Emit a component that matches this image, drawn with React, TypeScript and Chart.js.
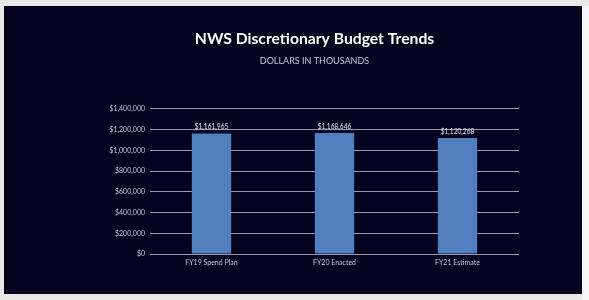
import React, { useEffect, useRef } from "react";
import { Chart, registerables } from "chart.js";

Chart.register(...registerables);

const categories = ["FY19 Spend Plan", "FY20 Enacted", "FY21 Estimate"];
const budgetValues = [1161965, 1168646, 1120268];
const yMax = 1400000;
const yStep = 200000;

const fmt = (v: number) => "$" + Number(v).toLocaleString("en-US");

const FONT = "Lato, 'Open Sans', sans-serif";

const valueLabels = {
  id: "valueLabels",
  afterDatasetsDraw(chart: any) {
    const ctx = chart.ctx;
    const meta = chart.getDatasetMeta(0);
    ctx.save();
    ctx.font = `6.6px ${FONT}`;
    ctx.fillStyle = "#ececf4";
    ctx.textAlign = "center";
    ctx.textBaseline = "bottom";
    meta.data.forEach((bar: any, i: number) => {
      ctx.fillText(fmt(budgetValues[i]), bar.x, bar.y - 3);
    });
    ctx.restore();
  },
};

export default function App() {
  const ref = useRef<HTMLCanvasElement>(null);
  useEffect(() => {
    if (!ref.current) return;
    const chart = new Chart(ref.current, {
      type: "bar",
      data: {
        labels: categories,
        datasets: [
          {
            data: budgetValues,
            backgroundColor: "#4f7fbd",
            categoryPercentage: 1,
            barPercentage: 0.32,
          },
        ],
      },
      options: {
        animation: false,
        responsive: false,
        maintainAspectRatio: false,
        layout: { padding: { left: 106, right: 63, top: 0, bottom: 0 } },
        plugins: {
          legend: { display: false },
          tooltip: { enabled: false },
          title: {
            display: true,
            text: "NWS Discretionary Budget Trends",
            color: "#ffffff",
            font: { family: FONT, size: 15.7, weight: "bold" },
            padding: { top: 24, bottom: 0 },
          },
          subtitle: {
            display: true,
            text: "DOLLARS IN THOUSANDS",
            color: "#c8c8d8",
            font: { family: FONT, size: 9 },
            padding: { top: 7.3, bottom: 42 },
          },
        },
        scales: {
          x: {
            grid: { display: false, drawTicks: false },
            border: { display: false },
            ticks: {
              color: "#c8c8d8",
              font: { family: FONT, size: 7 },
              padding: 5,
            },
            afterFit: (s: any) => {
              s.height = 40;
            },
          },
          y: {
            min: 0,
            max: yMax,
            grid: { color: "#9a9ab6", drawTicks: false, lineWidth: 1 },
            border: { display: false },
            ticks: {
              stepSize: yStep,
              color: "#c8c8d8",
              font: { family: FONT, size: 7 },
              padding: 5,
              callback: (v: any) => fmt(v),
            },
            afterFit: (s: any) => {
              s.width = 40;
            },
          },
        },
      },
      plugins: [valueLabels],
    });
    return () => chart.destroy();
  }, []);

  return (
    <div
      style={{
        position: "fixed",
        left: 0,
        top: 0,
        width: 589,
        height: 300,
        background: "#e8e8e8",
        overflow: "hidden",
      }}
    >
      <div
        style={{
          position: "absolute",
          left: 582,
          top: 6,
          width: 7,
          height: 294,
          background: "#f6f6f6",
        }}
      />
      <div
        style={{
          position: "absolute",
          left: 4,
          top: 6,
          width: 578,
          height: 288,
          background: "#03031f",
        }}
      >
        <canvas ref={ref} width={578} height={288} style={{ display: "block" }} />
      </div>
    </div>
  );
}
